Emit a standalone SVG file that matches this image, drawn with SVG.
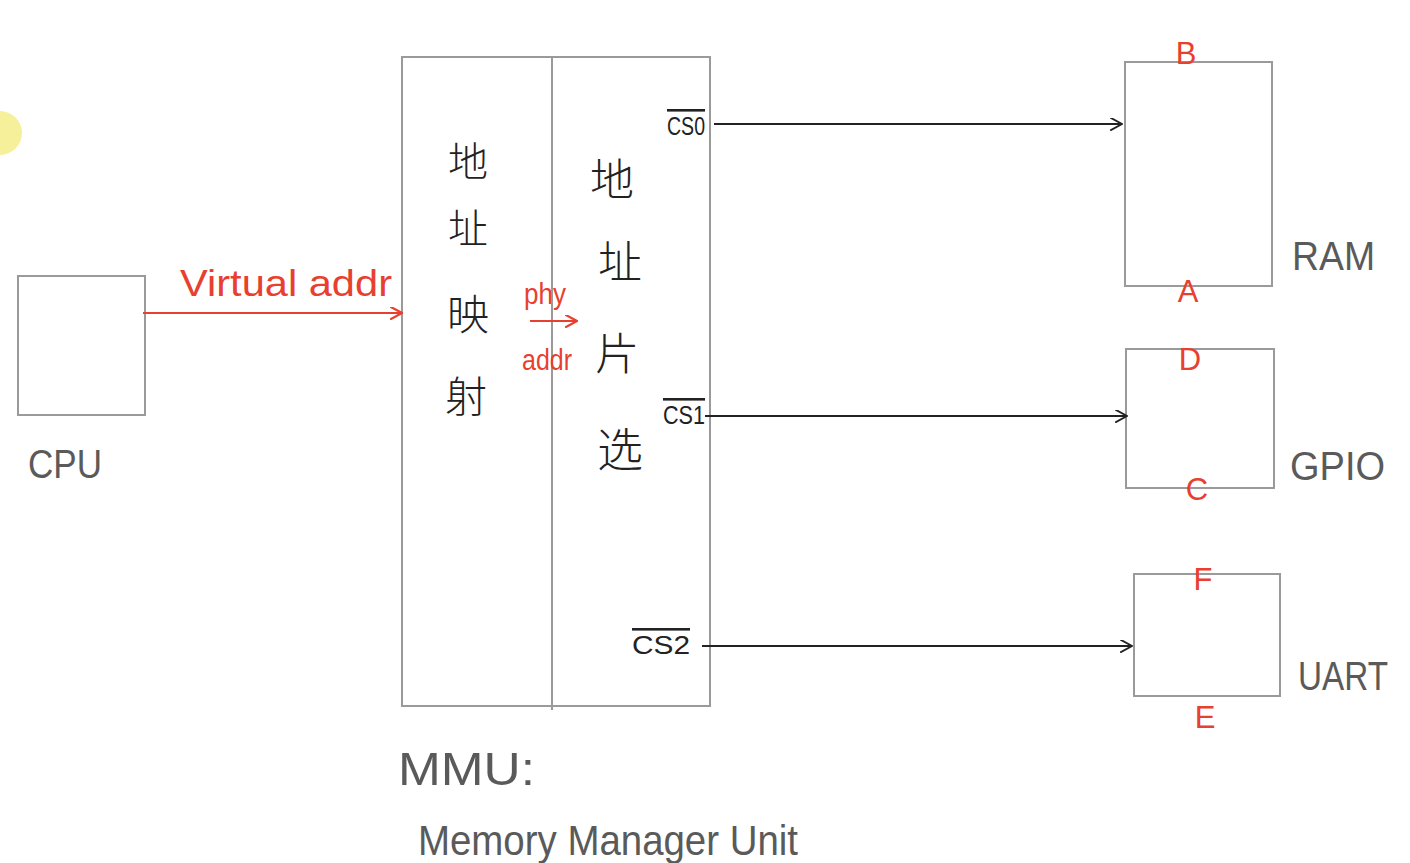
<svg xmlns="http://www.w3.org/2000/svg" width="1410" height="863" viewBox="0 0 1410 863">
<style>
.box{fill:none;stroke:#9a9a9a;stroke-width:2}
.conn{fill:none;stroke:#222;stroke-width:1.8}
.red{fill:none;stroke:#e8402f;stroke-width:2}
.lbl{font-family:"Liberation Sans","DejaVu Sans",sans-serif;fill:#5a5a5a;}
.rtxt{font-family:"Liberation Sans","DejaVu Sans",sans-serif;fill:#e8402f;}
.cjk{font-family:"Noto Sans CJK SC","Noto Sans CJK TC",sans-serif;fill:#222;font-weight:300;text-anchor:middle}
.pin{font-family:"Liberation Sans","DejaVu Sans",sans-serif;fill:#e8402f;font-size:31px;text-anchor:middle}
.cs{font-family:"Liberation Sans","DejaVu Sans",sans-serif;fill:#222;font-size:26px;text-decoration:overline}
</style>
<defs>
<marker id="ah" viewBox="0 0 12 12" refX="11" refY="6" markerWidth="13" markerHeight="13" markerUnits="userSpaceOnUse" orient="auto">
<path d="M0,0 L11,6 L0,12" fill="none" stroke="#222" stroke-width="1.8"/>
</marker>
<marker id="ahr" viewBox="0 0 12 12" refX="11" refY="6" markerWidth="13" markerHeight="13" markerUnits="userSpaceOnUse" orient="auto">
<path d="M0,0 L11,6 L0,12" fill="none" stroke="#e8402f" stroke-width="2"/>
</marker>
</defs>
<rect width="1410" height="863" fill="#ffffff"/>
<circle cx="0" cy="133" r="22" fill="#f6f09a"/>

<g id="cpu">
<rect class="box" x="18" y="276" width="127" height="139"/>
<text class="lbl" x="28" y="478" font-size="40" textLength="74" lengthAdjust="spacingAndGlyphs">CPU</text>
</g>

<g id="mmu">
<rect class="box" x="402" y="57" width="308" height="649"/>
<line class="box" x1="552" y1="57" x2="552" y2="710"/>
<text class="cjk" x="468" y="176" font-size="40">地</text>
<text class="cjk" x="468" y="243" font-size="40">址</text>
<text class="cjk" x="468" y="330" font-size="42">映</text>
<text class="cjk" x="466" y="412" font-size="42">射</text>
<text class="cjk" x="612" y="196" font-size="44">地</text>
<text class="cjk" x="620" y="278" font-size="44">址</text>
<text class="cjk" x="617" y="370" font-size="44">片</text>
<text class="cjk" x="620" y="466" font-size="46">选</text>
<text class="cs" x="667" y="135" textLength="38" lengthAdjust="spacingAndGlyphs">CS0</text>
<text class="cs" x="663" y="424" textLength="42" lengthAdjust="spacingAndGlyphs">CS1</text>
<text class="cs" x="632" y="654" textLength="58" lengthAdjust="spacingAndGlyphs">CS2</text>
<text class="lbl" x="398" y="785" font-size="46" textLength="137" lengthAdjust="spacingAndGlyphs">MMU:</text>
<text class="lbl" x="418" y="855" font-size="42" textLength="380" lengthAdjust="spacingAndGlyphs">Memory Manager Unit</text>
</g>

<g id="ram">
<rect class="box" x="1125" y="62" width="147" height="224"/>
<text class="pin" x="1186" y="64">B</text>
<text class="pin" x="1188" y="302">A</text>
<text class="lbl" x="1292" y="270" font-size="40" textLength="83" lengthAdjust="spacingAndGlyphs">RAM</text>
</g>

<g id="gpio">
<rect class="box" x="1126" y="349" width="148" height="139"/>
<text class="pin" x="1190" y="370">D</text>
<text class="pin" x="1197" y="500">C</text>
<text class="lbl" x="1290" y="480" font-size="40" textLength="95" lengthAdjust="spacingAndGlyphs">GPIO</text>
</g>

<g id="uart">
<rect class="box" x="1134" y="574" width="146" height="122"/>
<text class="pin" x="1203" y="590">F</text>
<text class="pin" x="1205" y="728">E</text>
<text class="lbl" x="1298" y="690" font-size="40" textLength="90" lengthAdjust="spacingAndGlyphs">UART</text>
</g>

<g id="connectors">
<line class="red" x1="143" y1="313" x2="402" y2="313" marker-end="url(#ahr)"/>
<text class="rtxt" x="180" y="296" font-size="36" textLength="212" lengthAdjust="spacingAndGlyphs">Virtual addr</text>
<line class="red" x1="530" y1="321" x2="577" y2="321" marker-end="url(#ahr)"/>
<text class="rtxt" x="524" y="304" font-size="30" textLength="42" lengthAdjust="spacingAndGlyphs">phy</text>
<text class="rtxt" x="522" y="370" font-size="30" textLength="50" lengthAdjust="spacingAndGlyphs">addr</text>
<line class="conn" x1="714" y1="124" x2="1122" y2="124" marker-end="url(#ah)"/>
<line class="conn" x1="705" y1="416" x2="1127" y2="416" marker-end="url(#ah)"/>
<line class="conn" x1="702" y1="646" x2="1132" y2="646" marker-end="url(#ah)"/>
</g>
</svg>
